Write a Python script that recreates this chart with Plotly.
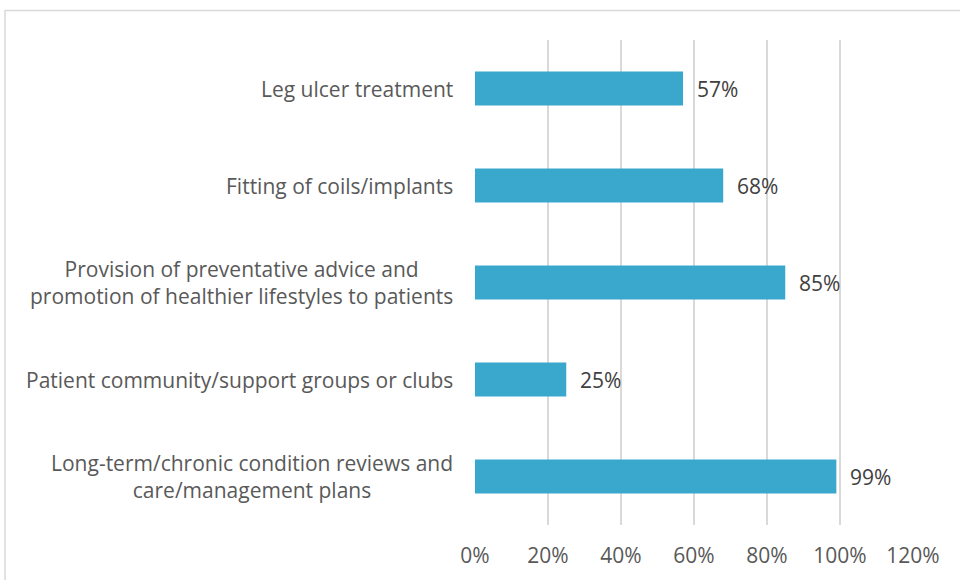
import plotly.graph_objects as go

categories = [
    "Leg ulcer treatment",
    "Fitting of coils/implants",
    "Provision of preventative advice and<br>promotion of healthier lifestyles to patients",
    "Patient community/support groups or clubs",
    "Long-term/chronic condition reviews and<br>care/management plans",
]
values = [0.57, 0.68, 0.85, 0.25, 0.99]
tick_vals = [0, 0.2, 0.4, 0.6, 0.8, 1.0, 1.2]
tick_text = ["0%", "20%", "40%", "60%", "80%", "100%", "120%"]

FONT = "Open Sans"
GRAY = "#595959"

fig = go.Figure()
fig.add_trace(go.Bar(
    x=values, y=categories, orientation="h",
    marker=dict(color="#3AA7CD", line=dict(width=0)),
    hoverinfo="skip",
))

annotations = []
for c, v in zip(categories, values):
    annotations.append(dict(
        x=v, y=c, xref="x", yref="y", text=f"{round(v*100)}%",
        showarrow=False, xanchor="left", xshift=12,
        font=dict(family=FONT, size=21, color="#404040"),
    ))
    annotations.append(dict(
        x=0, y=c, xref="paper", yref="y", text=c,
        showarrow=False, xanchor="right", align="center", xshift=-20,
        font=dict(family=FONT, size=21, color=GRAY),
    ))

fig.update_layout(
    width=960, height=580,
    margin=dict(l=475, r=47, t=40, b=55),
    paper_bgcolor="white", plot_bgcolor="white",
    bargap=0.65,
    showlegend=False,
    annotations=annotations,
    xaxis=dict(
        range=[0, 1.2], tickvals=tick_vals, ticktext=tick_text,
        showgrid=True, gridcolor="#d9d9d9", gridwidth=1.5,
        zeroline=False, showline=False, ticks="",
        ticklabelstandoff=16,
        tickfont=dict(family=FONT, size=21, color=GRAY),
    ),
    yaxis=dict(
        categoryorder="array", categoryarray=categories[::-1],
        showticklabels=False, showgrid=False, zeroline=False, ticks="",
    ),
    shapes=[dict(
        type="rect", xref="paper", yref="paper",
        x0=-1.073, x1=1.3, y0=-0.3, y1=1.0608,
        line=dict(color="#d9d9d9", width=1.5), fillcolor="rgba(0,0,0,0)",
        layer="below",
    )],
)

fig.write_html("out.html", config={"displayModeBar": False},
               post_script="document.body.style.margin='0';")
